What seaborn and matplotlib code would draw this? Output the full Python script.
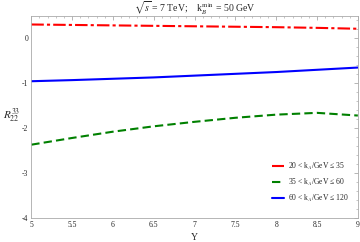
import numpy as np
import pandas as pd
import matplotlib
matplotlib.use("Agg")
import matplotlib.pyplot as plt
import seaborn as sns
from matplotlib.ticker import MultipleLocator, FormatStrFormatter

# Data
Y = [5.0, 5.5, 6.0, 6.5, 7.0, 7.5, 8.0, 8.5, 9.0]
r_20_35 = [0.31, 0.30, 0.29, 0.28, 0.27, 0.26, 0.25, 0.235, 0.215]
r_35_60 = [-2.37, -2.22, -2.08, -1.96, -1.86, -1.77, -1.70, -1.66, -1.72]
r_60_120 = [-0.955, -0.93, -0.90, -0.87, -0.83, -0.79, -0.75, -0.70, -0.65]
labels = [r"20 < k$_A$/GeV ≤ 35", r"35 < k$_A$/GeV ≤ 60", r"60 < k$_A$/GeV ≤ 120"]
colors = ["#ff0000", "#008000", "#0000ff"]

sns.set_theme(style="white")
plt.rcParams["font.family"] = ["Liberation Serif", "DejaVu Serif"]
plt.rcParams["mathtext.fontset"] = "stix"

df = pd.DataFrame({
    "Y": Y * 3,
    "R": r_20_35 + r_35_60 + r_60_120,
    "bin": [labels[0]] * 9 + [labels[1]] * 9 + [labels[2]] * 9,
})

fig, ax = plt.subplots(figsize=(3.6, 2.42), dpi=100)
sns.lineplot(data=df, x="Y", y="R", hue="bin", palette=colors, ax=ax, linewidth=1.5)

styles = [(0, (6, 1.5, 1.5, 1.5)), (0, (4, 2)), "-"]
for line, ls in zip(ax.get_lines(), styles):
    line.set_linestyle(ls)

ax.set_xlim(5, 9)
ax.set_ylim(-4, 0.5)
ax.xaxis.set_major_locator(MultipleLocator(0.5))
ax.xaxis.set_minor_locator(MultipleLocator(0.1))
ax.xaxis.set_major_formatter(FormatStrFormatter("%g"))
ax.yaxis.set_major_locator(MultipleLocator(1))
ax.yaxis.set_minor_locator(MultipleLocator(0.2))
ax.yaxis.set_major_formatter(FormatStrFormatter("%g"))
ax.tick_params(which="both", direction="in", top=True, right=True, labelsize=5.5,
               color="#999999", pad=2)
ax.tick_params(which="major", length=3, width=0.5)
ax.tick_params(which="minor", length=1.5, width=0.4)
for s in ax.spines.values():
    s.set_color("#aaaaaa")
    s.set_linewidth(0.6)

ax.set_xlabel("Y", fontsize=7, labelpad=3)
ax.set_ylabel(r"$R_{22}^{33}$", fontsize=8, rotation=0, labelpad=4)
ax.yaxis.set_label_coords(-0.06, 0.46)
ax.set_title(r"$\sqrt{s}$ = 7 TeV;    k$_B^{\rm min}$ = 50 GeV", fontsize=7, pad=3)

leg = ax.legend(loc="lower right", fontsize=5.5, frameon=False, handlelength=1.5,
                handletextpad=0.6, labelspacing=0.6, bbox_to_anchor=(0.995, 0.035))
for h, ls, c in zip(leg.get_lines(), styles, colors):
    h.set_linestyle(ls)
    h.set_color(c)

fig.subplots_adjust(left=0.087, right=0.994, top=0.934, bottom=0.1)
fig.savefig("out.png", dpi=100)
